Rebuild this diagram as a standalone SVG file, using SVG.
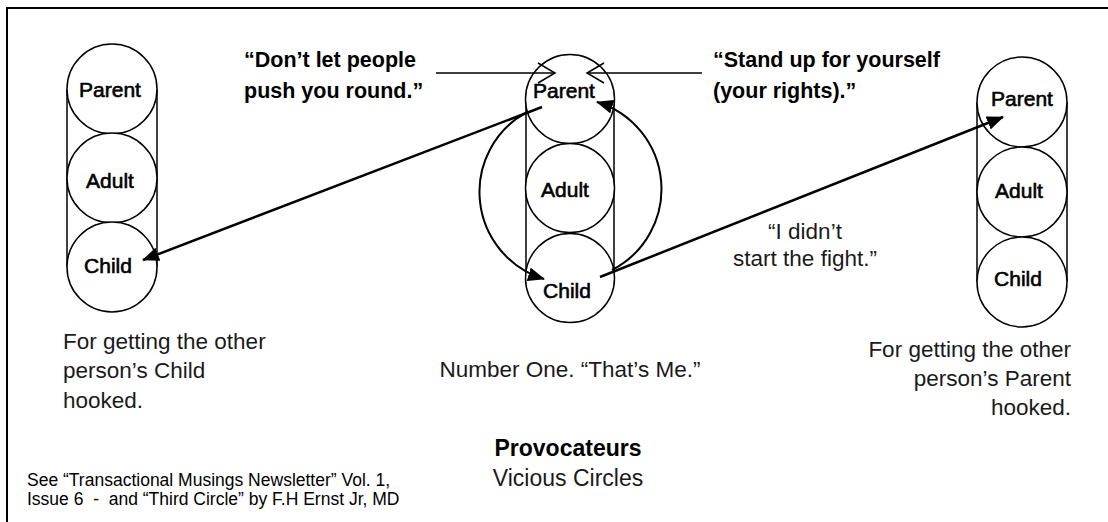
<svg xmlns="http://www.w3.org/2000/svg" width="1108" height="522" viewBox="0 0 1108 522">
<style>
.frame{fill:none;stroke:#000;stroke-width:2}
.col{fill:none;stroke:#000;stroke-width:1.5}
.ego{fill:#fff;stroke:#000;stroke-width:1.5}
.lab{font-family:"Liberation Sans",Arial,sans-serif;font-size:21px;fill:#000;stroke:#000;stroke-width:0.6;text-anchor:middle}
.q{font-family:"Liberation Sans",Arial,sans-serif;font-weight:bold;font-size:21.5px;fill:#000}
.t{font-family:"Liberation Sans",Arial,sans-serif;font-size:22.5px;fill:#1a1a1a}
.foot{font-family:"Liberation Sans",Arial,sans-serif;font-size:17.5px;fill:#000}
.arr{fill:none;stroke:#000;stroke-width:2.5}
.arc{fill:none;stroke:#000;stroke-width:2}
.thin{fill:none;stroke:#000;stroke-width:1.5}
</style>
<defs>
<marker id="solid" markerUnits="userSpaceOnUse" markerWidth="18" markerHeight="14" refX="16" refY="7" orient="auto">
<path d="M0,0 L17,7 L0,14 z" fill="#000"/>
</marker>
<marker id="open" markerUnits="userSpaceOnUse" markerWidth="20" markerHeight="22" refX="18" refY="11" orient="auto">
<path d="M1,1 L18,11 L1,21" fill="none" stroke="#000" stroke-width="1.5"/>
</marker>
</defs>
<rect class="frame" x="7" y="8" width="1120" height="530"/>

<g id="left-person">
<line class="col" x1="67" y1="89" x2="67" y2="267"/>
<line class="col" x1="157" y1="89" x2="157" y2="267"/>
<g id="left-parent"><circle class="ego" cx="112" cy="89" r="45"/><text class="lab" x="110" y="97">Parent</text></g>
<g id="left-adult"><circle class="ego" cx="112" cy="178" r="45"/><text class="lab" x="110" y="188">Adult</text></g>
<g id="left-child"><circle class="ego" cx="112" cy="267" r="45"/><text class="lab" x="108" y="273">Child</text></g>
</g>

<g id="middle-person">
<line class="col" x1="526" y1="99" x2="526" y2="278"/>
<line class="col" x1="614" y1="99" x2="614" y2="278"/>
<g id="middle-parent"><circle class="ego" cx="570" cy="99" r="44.5"/><text class="lab" x="564" y="98">Parent</text></g>
<g id="middle-adult"><circle class="ego" cx="570" cy="188" r="44.5"/><text class="lab" x="565" y="197">Adult</text></g>
<g id="middle-child"><circle class="ego" cx="570" cy="278" r="44.5"/><text class="lab" x="567" y="298">Child</text></g>
</g>

<g id="right-person">
<line class="col" x1="977" y1="102" x2="977" y2="282"/>
<line class="col" x1="1067" y1="102" x2="1067" y2="282"/>
<g id="right-parent"><circle class="ego" cx="1022" cy="102" r="45"/><text class="lab" x="1022" y="106">Parent</text></g>
<g id="right-adult"><circle class="ego" cx="1022" cy="192" r="45"/><text class="lab" x="1019" y="198">Adult</text></g>
<g id="right-child"><circle class="ego" cx="1022" cy="282" r="45"/><text class="lab" x="1018" y="286">Child</text></g>
</g>

<g id="connectors">
<path class="arc" d="M527,112 A91,91 0 0 0 544,279" marker-end="url(#solid)"/>
<path class="arc" d="M612,270 A91,91 0 0 0 597,102" marker-end="url(#solid)"/>
<line class="arr" x1="542" y1="107" x2="143" y2="260" marker-end="url(#solid)"/>
<line class="arr" x1="600" y1="277" x2="1003" y2="117" marker-end="url(#solid)"/>
<line class="thin" x1="436" y1="73" x2="555" y2="73" marker-end="url(#open)"/>
<line class="thin" x1="702" y1="73" x2="587" y2="73" marker-end="url(#open)"/>
</g>

<g id="texts">
<text class="q" x="244" y="67">“Don’t let people</text>
<text class="q" x="244" y="98">push you round.”</text>
<text class="q" x="713" y="67">“Stand up for yourself</text>
<text class="q" x="713" y="98">(your rights).”</text>
<text class="t" x="805" y="239" text-anchor="middle">“I didn’t</text>
<text class="t" x="805" y="266" text-anchor="middle">start the fight.”</text>
<text class="t" x="63" y="349">For getting the other</text>
<text class="t" x="63" y="378">person’s Child</text>
<text class="t" x="63" y="408">hooked.</text>
<text class="t" x="1071" y="357" text-anchor="end">For getting the other</text>
<text class="t" x="1071" y="386" text-anchor="end">person’s Parent</text>
<text class="t" x="1071" y="415" text-anchor="end">hooked.</text>
<text class="t" x="570" y="377" text-anchor="middle">Number One. “That’s Me.”</text>
<text class="q" x="568" y="456" text-anchor="middle" style="font-size:23px">Provocateurs</text>
<text class="t" x="568" y="486" text-anchor="middle" style="font-size:23px">Vicious Circles</text>
<text class="foot" x="27" y="486">See “Transactional Musings Newsletter” Vol. 1,</text>
<text class="foot" x="27" y="505" xml:space="preserve">Issue 6  -  and “Third Circle” by F.H Ernst Jr, MD</text>
</g>
</svg>
